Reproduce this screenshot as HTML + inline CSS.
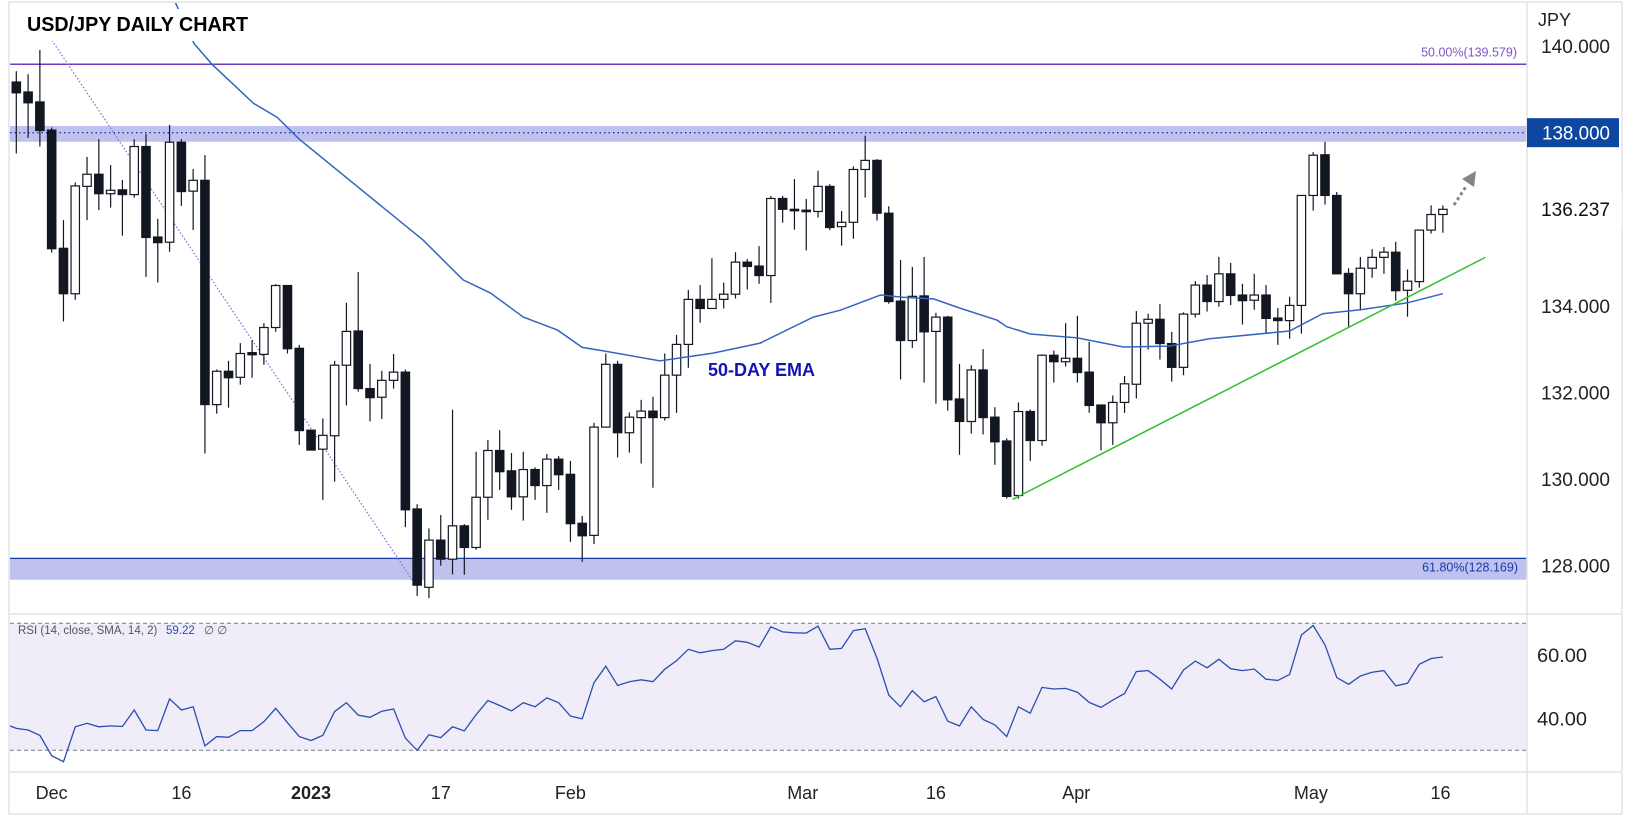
<!DOCTYPE html>
<html><head><meta charset="utf-8"><title>USD/JPY Daily Chart</title>
<style>
html,body{margin:0;padding:0;background:#fff;}
svg{display:block;font-family:"Liberation Sans",sans-serif;}
</style></head>
<body>
<svg id="chart" width="1633" height="816" viewBox="0 0 1633 816" xmlns="http://www.w3.org/2000/svg">
  <rect x="0" y="0" width="1633" height="816" fill="#ffffff"/>
  <defs><clipPath id="plotclip"><rect x="10" y="3" width="1517" height="611"/></clipPath></defs>
  <g id="bands" clip-path="url(#plotclip)"></g>
  <g id="candles" clip-path="url(#plotclip)"></g>
  <g id="overlay" clip-path="url(#plotclip)"></g>
  <g id="rsi"></g>
  <g id="axes"></g>
</svg>
<script>
const NS = "http://www.w3.org/2000/svg";
// ---- data ----
const opens = [139.17,138.94,138.71,138.06,135.33,134.28,136.76,137.04,136.59,136.68,136.57,137.68,135.59,135.47,137.78,136.65,136.90,131.72,132.49,132.35,132.92,132.88,133.50,134.47,133.02,131.13,130.69,131.00,132.63,133.42,132.09,131.89,132.28,132.47,129.31,127.50,128.59,128.15,128.92,128.42,129.58,130.66,130.19,129.59,130.22,129.85,130.46,130.11,128.98,128.70,131.20,132.65,131.07,131.42,131.57,131.42,132.40,133.11,134.15,133.94,134.15,134.27,135.01,134.92,134.70,136.48,136.23,136.21,136.18,136.76,135.83,135.93,137.15,137.36,136.14,134.11,133.20,134.23,133.41,133.74,131.85,131.33,132.52,131.43,130.88,129.62,131.56,130.89,132.86,132.71,132.79,132.47,131.71,131.30,131.77,132.19,133.60,133.69,133.13,132.58,133.81,134.48,134.10,134.74,134.25,134.13,134.25,133.72,133.66,134.01,136.55,137.49,136.55,134.75,134.28,134.87,135.12,135.24,134.36,134.56,135.75,136.11];
const highs = [139.42,139.35,139.91,138.12,135.98,136.85,137.44,137.85,137.25,136.91,137.85,137.97,136.01,138.18,137.85,137.16,137.48,132.53,132.73,133.14,133.21,133.60,134.50,134.47,133.10,131.13,131.40,132.73,134.07,134.78,132.66,132.50,132.89,132.53,129.42,128.86,129.17,131.60,128.96,130.63,130.90,131.13,130.60,130.63,130.27,130.58,130.53,130.42,129.15,131.30,132.90,132.73,131.54,131.83,131.90,132.90,133.33,134.37,134.48,135.10,134.54,135.24,135.08,135.38,136.54,136.54,136.93,136.47,137.12,136.81,136.19,137.22,137.93,137.39,136.30,135.06,134.90,135.13,133.84,133.77,132.66,132.63,133.00,131.66,130.94,131.77,131.61,132.88,132.97,133.60,133.77,133.17,131.71,131.93,132.38,133.88,133.82,134.04,133.40,133.85,134.57,134.71,135.13,134.99,134.51,134.74,134.48,133.95,134.21,136.55,137.55,137.79,136.63,134.87,135.13,135.31,135.36,135.48,134.84,135.75,136.32,136.32];
const lows = [137.52,137.88,137.68,135.23,133.64,134.14,135.98,136.21,136.27,135.62,136.50,134.67,134.54,135.25,136.31,135.75,130.59,131.51,131.65,132.18,132.34,132.64,133.40,132.90,130.79,130.66,129.52,129.94,131.70,132.02,131.33,131.39,132.09,128.89,127.30,127.25,128.00,127.80,127.79,128.37,129.06,129.75,129.29,129.04,129.52,129.22,129.75,128.55,128.09,128.50,131.20,130.50,130.61,130.36,129.80,131.35,131.53,132.57,133.61,133.94,133.94,134.17,134.38,134.51,134.07,135.92,135.76,135.28,136.04,135.75,135.39,135.55,136.50,135.97,134.05,132.30,133.03,132.23,131.74,131.58,130.56,131.05,131.03,130.33,129.55,129.55,130.42,130.77,132.23,132.60,132.23,131.53,130.66,130.79,131.53,131.86,132.99,132.76,132.25,132.40,133.73,133.87,133.98,134.02,133.57,133.91,133.38,133.10,133.24,133.36,136.20,136.34,134.74,133.52,133.89,134.65,134.74,134.12,133.75,134.42,135.67,135.69];
const closes = [138.92,138.69,138.05,135.32,134.28,136.77,137.04,136.59,136.67,136.57,137.68,135.58,135.46,137.78,136.64,136.90,131.72,132.49,132.34,132.90,132.87,133.50,134.47,133.01,131.12,130.67,131.01,132.63,133.41,132.09,131.88,132.28,132.47,129.29,127.55,128.59,128.15,128.92,128.42,129.58,130.66,130.17,129.59,130.22,129.85,130.46,130.10,128.97,128.69,131.20,132.65,131.07,131.43,131.57,131.42,132.40,133.11,134.15,133.94,134.15,134.27,135.01,134.91,134.70,136.48,136.23,136.21,136.18,136.76,135.81,135.93,137.15,137.36,136.14,134.10,133.20,134.22,133.40,133.74,131.83,131.33,132.52,131.42,130.86,129.60,131.56,130.89,132.86,132.71,132.79,132.46,131.70,131.30,131.77,132.20,133.60,133.69,133.13,132.58,133.81,134.48,134.10,134.74,134.24,134.12,134.25,133.71,133.66,134.01,136.55,137.48,136.55,134.74,134.28,134.87,135.12,135.24,134.35,134.57,135.75,136.11,136.23];
const emaIdx = [13.5,15.1,16.6,20.1,22.1,24.0,34.5,37.9,40.2,43.0,45.9,48.0,49.8,54.6,59.1,63.1,67.6,69.9,73.3,75.2,77.8,80.0,83.2,84.0,86.0,90.0,93.9,97.8,101.2,108.0,110.8,114.0,118.0,121.0];
const emaVal = [141.0,140.05,139.58,138.68,138.36,137.85,135.52,134.6,134.3,133.74,133.44,133.04,132.96,132.73,132.91,133.14,133.74,133.9,134.25,134.2,134.16,133.95,133.67,133.52,133.35,133.26,133.05,133.07,133.24,133.42,133.82,133.91,134.07,134.28];
const rsiVals = [36.9,36.4,34.7,28.3,26.4,37.4,38.5,37.4,37.7,37.5,42.7,36.4,36.2,46.2,42.7,43.7,31.4,34.3,34.1,36.2,36.2,39.0,43.2,38.7,34.3,33.1,34.7,42.2,45.0,41.1,40.4,42.3,43.0,33.8,30.0,34.9,34.0,37.4,36.1,41.2,45.7,44.1,42.4,45.0,43.7,46.5,45.0,40.8,39.9,51.3,56.5,50.4,51.6,52.2,51.6,55.5,58.2,61.8,60.7,61.4,61.8,64.5,64.0,62.5,68.9,67.3,67.0,66.9,69.1,61.8,62.1,67.7,68.3,59.0,47.4,43.7,48.8,45.3,46.9,39.2,37.7,43.7,39.7,38.0,34.3,43.7,41.7,49.8,49.3,49.5,48.3,45.1,43.5,45.8,47.9,54.8,55.1,52.4,49.3,55.3,58.1,56.0,58.7,55.7,55.1,55.6,52.4,52.0,53.9,66.3,69.3,63.2,52.9,50.8,53.4,54.6,55.1,50.3,51.1,57.1,58.9,59.4];
const priceTicks = [140,136,134,132,130,128];
const priceTickLabels = ["140.000","136.000","134.000","132.000","130.000","128.000"];
const rsiTicks = [60,40];
const rsiTickLabels = ["60.00","40.00"];
const timeTickIdx = [3,14,25,36,47,66.7,78,89.9,109.8,120.8];
const timeTickLabels = ["Dec","16","2023","17","Feb","Mar","16","Apr","May","16"];
const fib50 = 139.579, fib618 = 128.169, resist = 138.0, resistTop = 138.155, resistBot = 137.79, fibBandBot = 127.675;
const trendIdx = [84.5,124.6], trendVal = [129.53,135.12];
const fibDiagIdx = [2.86,34.0], fibDiagVal = [140.2,127.5];
const lastClose = 136.237;

// ---- scales ----
const X = i => 16.3 + i * 11.79;
const Y = p => 64.3 + (139.579 - p) * 43.3;
const RY = r => 623.3 + (70 - r) * 3.175;

function mk(tag, attrs, parent, text) {
  const e = document.createElementNS(NS, tag);
  for (const k in attrs) e.setAttribute(k, attrs[k]);
  if (text !== undefined) e.textContent = text;
  parent.appendChild(e);
  return e;
}
const bands = document.getElementById('bands');
const cg = document.getElementById('candles');
const ov = document.getElementById('overlay');
const rg = document.getElementById('rsi');
const ax = document.getElementById('axes');

let e;
e = mk('rect', {x:10, y:Y(resistTop), width:1517, height:Y(resistBot)-Y(resistTop), fill:'#bfc2ee'}, bands);


e = mk('line', {x1:10, x2:1527, y1:Y(resist), y2:Y(resist), stroke:'#1a3aa8', 'stroke-width':1.3, 'stroke-dasharray':'1.5 3'}, bands);


e = mk('rect', {x:10, y:Y(fib618), width:1517, height:Y(fibBandBot)-Y(fib618), fill:'#bfc2ee'}, bands);


e = mk('line', {x1:10, x2:1527, y1:Y(fib618), y2:Y(fib618), stroke:'#1a3aa8', 'stroke-width':1.3}, bands);


e = mk('line', {x1:10, x2:1527, y1:Y(fib50), y2:Y(fib50), stroke:'#6a3dc2', 'stroke-width':1.5}, bands);


e = mk('text', {x:1517, y:Y(fib50)-8, 'text-anchor':'end', 'font-size':12.5, fill:'#7e57c2'}, bands, '50.00%(139.579)');


e = mk('text', {x:1518, y:Y(fib618)+13, 'text-anchor':'end', 'font-size':12.5, fill:'#1a3aa8'}, bands, '61.80%(128.169)');



e = mk('line', {x1:X(fibDiagIdx[0]), y1:Y(fibDiagVal[0]), x2:X(fibDiagIdx[1]), y2:Y(fibDiagVal[1]), stroke:'#8f6fd6', 'stroke-width':1.3, 'stroke-dasharray':'1.5 2'}, bands);



let d = emaIdx.map((v, k) => (k ? 'L' : 'M') + X(v).toFixed(1) + ',' + Y(emaVal[k]).toFixed(1)).join(' ');
e = mk('path', {d:d, fill:'none', stroke:'#3465c0', 'stroke-width':1.5}, ov);



e = mk('line', {x1:X(trendIdx[0]), y1:Y(trendVal[0]), x2:X(trendIdx[1]), y2:Y(trendVal[1]), stroke:'#2ec02e', 'stroke-width':1.5}, ov);



for (let i = 0; i < opens.length; i++) {
  const x = X(i), o = opens[i], c = closes[i];
  const up = c >= o;
  const g = mk('g', {}, cg);
  
  
  mk('line', {x1:x, x2:x, y1:Y(highs[i]), y2:Y(lows[i]), stroke:'#131722', 'stroke-width':1.2}, g);
  const top = Y(Math.max(o, c)), bot = Y(Math.min(o, c));
  mk('rect', {x:x-4.2, y:top, width:8.4, height:Math.max(bot-top, 1.5), fill: up ? '#ffffff' : '#131722', stroke:'#131722', 'stroke-width':1.2}, g);
}

e = mk('text', {x:708, y:376, 'font-size':18, 'font-weight':'bold', fill:'#1414b4'}, ov, '50-DAY EMA');



// projection arrow (annotation)
e = mk('line', {x1:1454, y1:205, x2:1467, y2:185, stroke:'#858585', 'stroke-width':3, 'stroke-dasharray':'3 3'}, ov);


e = mk('polygon', {points:'1476,171 1474,187 1462,179', fill:'#858585'}, ov);



e = mk('rect', {x:22, y:9, width:233, height:32, fill:'#ffffff'}, ax);


e = mk('text', {x:27, y:31, 'font-size':20, 'font-weight':'bold', fill:'#000', textLength:221, lengthAdjust:'spacingAndGlyphs'}, ax, 'USD/JPY DAILY CHART');



e = mk('rect', {x:10, y:RY(70), width:1517, height:RY(30)-RY(70), fill:'#f0edf9'}, rg);


[70, 30].forEach(v => {
  e = mk('line', {x1:10, x2:1527, y1:RY(v), y2:RY(v), stroke:'#787b86', 'stroke-width':1, 'stroke-dasharray':'4 3'}, rg);
  
  
});
d = rsiVals.map((v, k) => (k ? 'L' : 'M') + X(k).toFixed(1) + ',' + RY(v).toFixed(1)).join(' ');
e = mk('path', {d:'M10,' + RY(37.7).toFixed(1) + ' ' + d.replace('M', 'L'), fill:'none', stroke:'#2a4eb0', 'stroke-width':1.3}, rg);


e = mk('text', {x:18, y:634, 'font-size':11.5, fill:'#555'}, rg, 'RSI (14, close, SMA, 14, 2)');


e = mk('text', {x:166, y:634, 'font-size':11.5, fill:'#2a4eb0'}, rg, '59.22');


e = mk('text', {x:204, y:634, 'font-size':11.5, fill:'#555'}, rg, '∅  ∅');



const frame = [[9,2,1622,2],[9,2,9,814],[1622,2,1622,814],[9,814,1622,814],[1527,2,1527,814],[9,614,1622,614],[9,772,1622,772]];
frame.forEach(f => {
  e = mk('line', {x1:f[0], y1:f[1], x2:f[2], y2:f[3], stroke:'#e0e3eb', 'stroke-width':1.5}, ax);
  
  
});

e = mk('text', {x:1538, y:26, 'font-size':18, fill:'#222'}, ax, 'JPY');


priceTicks.forEach((p, k) => {
  e = mk('text', {x:1541, y:Y(p)+7, 'font-size':19, fill:'#222', textLength:69, lengthAdjust:'spacingAndGlyphs'}, ax, priceTickLabels[k]);
  
  
});
e = mk('rect', {x:1527.8, y:Y(lastClose)-16, width:94, height:34, fill:'#ffffff'}, ax);


e = mk('text', {x:1541, y:Y(lastClose)+7, 'font-size':19, fill:'#111', textLength:69, lengthAdjust:'spacingAndGlyphs'}, ax, lastClose.toFixed(3));


e = mk('rect', {x:1527, y:Y(resist)-14.5, width:92, height:29, fill:'#0d47a1'}, ax);


e = mk('text', {x:1542, y:Y(resist)+7, 'font-size':19, fill:'#ffffff', textLength:68, lengthAdjust:'spacingAndGlyphs'}, ax, '138.000');



rsiTicks.forEach((v, k) => {
  e = mk('text', {x:1537, y:RY(v)+7, 'font-size':19, fill:'#222', textLength:50, lengthAdjust:'spacingAndGlyphs'}, ax, rsiTickLabels[k]);
  
  
});

timeTickIdx.forEach((v, k) => {
  e = mk('text', {x:X(v), y:799, 'font-size':18, 'text-anchor':'middle', fill:'#222', 'font-weight': timeTickLabels[k] === '2023' ? 'bold' : 'normal'}, ax, timeTickLabels[k]);
  
  
});
</script>
</body></html>
